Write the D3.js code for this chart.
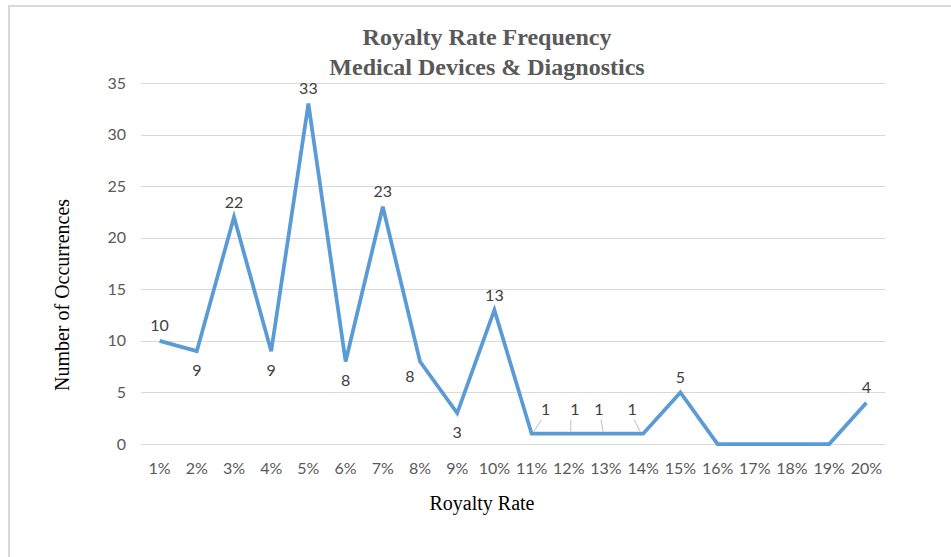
<!DOCTYPE html>
<html lang="en">
  <head>
    <meta charset="UTF-8"/>
    <title>Royalty Rate Frequency</title>
    <script src="https://d3js.org/d3.v7.min.js"></script>
    <style>
      body { margin: 0; background: #fff; }
      .tick-label { font: 16px Lato, sans-serif; fill: #595959; }
      .data-label { font: 16px Lato, sans-serif; fill: #404040; }
      .title { font: bold 24px "Liberation Serif", serif; fill: #595959; }
      .axis-label { font: 20px "Liberation Serif", serif; fill: #000; }
      .grid line { stroke: #d9d9d9; stroke-width: 1px; shape-rendering: crispEdges; }
    </style>
  </head>
  <body>
    <script type="text/javascript">

        const rates = ["1%","2%","3%","4%","5%","6%","7%","8%","9%","10%",
                       "11%","12%","13%","14%","15%","16%","17%","18%","19%","20%"]
        const counts = [10, 9, 22, 9, 33, 8, 23, 8, 3, 13, 1, 1, 1, 1, 5, 0, 0, 0, 0, 4]
        const yTicks = [0, 5, 10, 15, 20, 25, 30, 35]
        const titleLines = ["Royalty Rate Frequency", "Medical Devices & Diagnostics"]

        // where each value label sits relative to its point (null = no label)
        const labelPlace = ["above","below","above","below","above","below","above","left","below","above",
                            "one","one","one","one","above",null,null,null,null,"above"]
        const oneShift = [14, 6, -7, -11]

        const outerWidth = 951,
              outerHeight = 557,
              margin = ({top: 83, right: 66, bottom: 113, left: 141}),
              width  = outerWidth - margin.left - margin.right,
              height = outerHeight - margin.top - margin.bottom

        const svg = d3.select("body").append("svg")
            .attr("width", outerWidth)
            .attr("height", outerHeight)

        // chart frame
        svg.append("rect")
            .attr("x", 9).attr("y", 6)
            .attr("width", outerWidth + 20).attr("height", outerHeight + 20)
            .attr("fill", "none")
            .attr("stroke", "#d9d9d9")
            .attr("stroke-width", 2)

        const g = svg.append("g")
            .attr("transform", `translate(${margin.left},${margin.top})`)

        const xScale = d3.scaleBand()
            .domain(rates)
            .range([0, width])

        const yScale = d3.scaleLinear()
            .domain([0, 35])
            .range([height, 0])

        const xc = d => xScale(d) + xScale.bandwidth() / 2

        // gridlines
        g.append("g")
            .attr("class", "grid")
            .call(d3.axisLeft(yScale).tickValues(yTicks).tickSize(-width).tickFormat(""))
            .call(a => a.select(".domain").remove())

        // y tick labels
        g.append("g")
            .selectAll("text")
            .data(yTicks)
            .join("text")
            .attr("class", "tick-label")
            .attr("x", -15)
            .attr("y", d => yScale(d))
            .attr("dy", "0.35em")
            .attr("text-anchor", "end")
            .text(d => d)

        // x tick labels
        g.append("g")
            .selectAll("text")
            .data(rates)
            .join("text")
            .attr("class", "tick-label")
            .attr("x", d => xc(d))
            .attr("y", height + 24)
            .attr("dy", "0.35em")
            .attr("text-anchor", "middle")
            .text(d => d)

        const points = rates.map((r, i) => ({rate: r, value: counts[i], place: labelPlace[i]}))

        const line = d3.line()
            .x(d => xc(d.rate))
            .y(d => yScale(d.value))

        g.append("path")
            .datum(points)
            .attr("fill", "none")
            .attr("stroke", "#5b9bd5")
            .attr("stroke-width", 3.75)
            .attr("stroke-linejoin", "miter")
            .attr("d", line)

        // value labels
        let oneIdx = 0
        points.forEach(p => {
            if (!p.place) return
            const px = xc(p.rate), py = yScale(p.value)
            let lx = px, ly = py
            if (p.place === "above") ly = py - 15
            else if (p.place === "below") ly = py + 19
            else if (p.place === "left") { lx = px - 10; ly = py + 15 }
            else if (p.place === "one") {
                const s = oneShift[oneIdx++]
                lx = px + s; ly = py - 24
                g.append("line")
                    .attr("x1", lx + (s > 0 ? -4 : 2)).attr("y1", ly + 10)
                    .attr("x2", px + (s > 0 ? 2 : -3)).attr("y2", py - 2)
                    .attr("stroke", "#bfbfbf")
                    .attr("stroke-width", 1)
            }
            g.append("text")
                .attr("class", "data-label")
                .attr("x", lx)
                .attr("y", ly)
                .attr("dy", "0.35em")
                .attr("text-anchor", "middle")
                .text(p.value)
        })

        // title
        svg.append("g")
            .selectAll("text")
            .data(titleLines)
            .join("text")
            .attr("class", "title")
            .attr("x", 487)
            .attr("y", (d, i) => 37 + i * 30)
            .attr("dy", "0.35em")
            .attr("text-anchor", "middle")
            .text(d => d)

        // axis titles
        svg.append("text")
            .attr("class", "axis-label")
            .attr("text-anchor", "middle")
            .attr("transform", "translate(62,295) rotate(-90)")
            .attr("dy", "0.35em")
            .text("Number of Occurrences")

        svg.append("text")
            .attr("class", "axis-label")
            .attr("text-anchor", "middle")
            .attr("x", 482)
            .attr("y", 503)
            .attr("dy", "0.35em")
            .text("Royalty Rate")

    </script>
  </body>
</html>
